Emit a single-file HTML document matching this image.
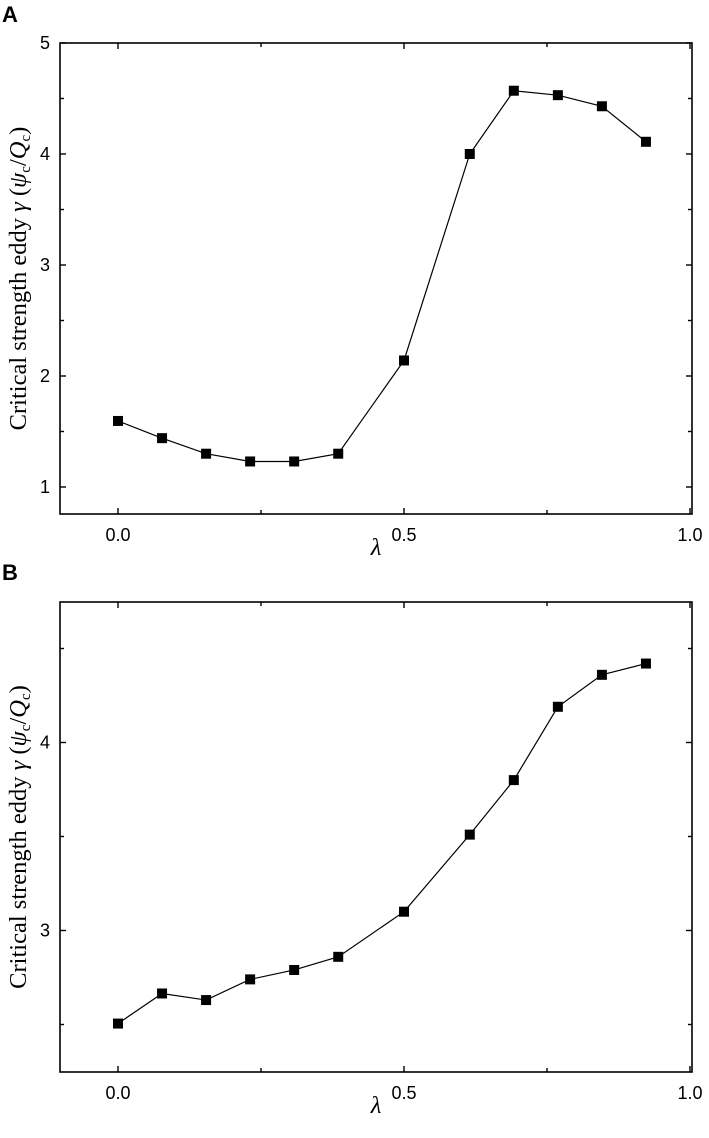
<!DOCTYPE html>
<html><head><meta charset="utf-8"><style>
body{margin:0;background:#fff;width:709px;height:1138px;overflow:hidden}
svg{display:block}
.tick{font-family:"Liberation Sans",Arial,sans-serif;font-size:18px}
.ttl{font-family:"Liberation Serif",serif;font-size:24.5px}
.pl{font-family:"Liberation Sans",Arial,sans-serif;font-size:22px;font-weight:bold}
</style></head><body>
<svg id="chart" width="709" height="1138"></svg>
<script>
const xVals=[0,0.077,0.154,0.231,0.308,0.385,0.5,0.615,0.692,0.769,0.846,0.923];
const yA=[1.595,1.44,1.30,1.23,1.23,1.30,2.14,4.0,4.57,4.53,4.43,4.11];
const yB=[2.505,2.665,2.63,2.74,2.79,2.86,3.10,3.51,3.80,4.19,4.36,4.42];
const xTicks=["0.0","0.5","1.0"];
const yTicksA=["1","2","3","4","5"];
const yTicksB=["3","4"];
const NS="http://www.w3.org/2000/svg";
const svg=document.getElementById('chart');
function mk(t,a,p){const e=document.createElementNS(NS,t);for(const k in a)e.setAttribute(k,a[k]);(p||svg).appendChild(e);return e;}
function panel(cfg){
  const g=mk('g',{});
  
  
  const X=v=>118+v*572;
  const Y=v=>cfg.y0px-(v-cfg.y0)*cfg.ppu;
  const L=60,R=692,T=cfg.top,B=cfg.bottom;
  const fr=mk('rect',{x:L,y:T,width:R-L,height:B-T,fill:'none',stroke:'#000','stroke-width':1.6},g);
  
  
  [0,0.25,0.5,0.75,1.0].forEach((v,i)=>{
    const len=i%2===0?6:4;const x=X(v);
    mk('line',{x1:x,y1:B,x2:x,y2:B-len,stroke:'#000','stroke-width':1.4},g);
    mk('line',{x1:x,y1:T,x2:x,y2:T+len,stroke:'#000','stroke-width':1.4},g);
  });
  xTicks.forEach((s,i)=>{
    const t=mk('text',{x:X(i*0.5),y:B+27,'text-anchor':'middle',class:'tick'},g);t.textContent=s;
    
    
  });
  for(let v=cfg.ymin;v<=cfg.ymax+1e-6;v+=0.5){
    const y=Y(v);const major=Math.abs(v-Math.round(v))<1e-6;const len=major?6:4;
    mk('line',{x1:L,y1:y,x2:L+len,y2:y,stroke:'#000','stroke-width':1.4},g);
    mk('line',{x1:R,y1:y,x2:R-len,y2:y,stroke:'#000','stroke-width':1.4},g);
  }
  cfg.labels.forEach(s=>{
    const t=mk('text',{x:L-10,y:Y(+s)+6,'text-anchor':'end',class:'tick'},g);t.textContent=s;
    
    
  });
  const pts=xVals.map((x,i)=>X(x)+','+Y(cfg.data[i])).join(' ');
  const ln=mk('polyline',{points:pts,fill:'none',stroke:'#000','stroke-width':1.2},g);
  
  
  xVals.forEach((x,i)=>{
    const r=mk('rect',{x:X(x)-5,y:Y(cfg.data[i])-5,width:10,height:10,fill:'#000'},g);
    
    
  });
  const xl=mk('text',{x:376,y:B+41,'text-anchor':'middle',class:'ttl','font-style':'italic'},g);xl.textContent='λ';
  
  
  const cy=(T+B)/2;
  const yl=mk('text',{x:0,y:0,'text-anchor':'middle',class:'ttl',transform:`translate(26,${cy}) rotate(-90)`},g);
  yl.innerHTML='Critical strength eddy <tspan font-style="italic">γ</tspan> (<tspan font-style="italic">ψ</tspan><tspan font-size="15" dy="4">c</tspan><tspan dy="-4">/</tspan><tspan font-style="italic">Q</tspan><tspan font-size="15" dy="4">c</tspan><tspan dy="-4">)</tspan>';
  
  
  const pl=mk('text',{x:2,y:cfg.lblY,class:'pl'},g);pl.textContent=cfg.letter;
  
  
}
panel({name:'panel-a',letter:'A',lblY:22,top:43,bottom:514,y0:5,y0px:43,ppu:111,ymin:1,ymax:5,labels:yTicksA,data:yA});
panel({name:'panel-b',letter:'B',lblY:580,top:602,bottom:1072,y0:4,y0px:742.5,ppu:188,ymin:2.5,ymax:4.5,labels:yTicksB,data:yB});
</script>
</body></html>
